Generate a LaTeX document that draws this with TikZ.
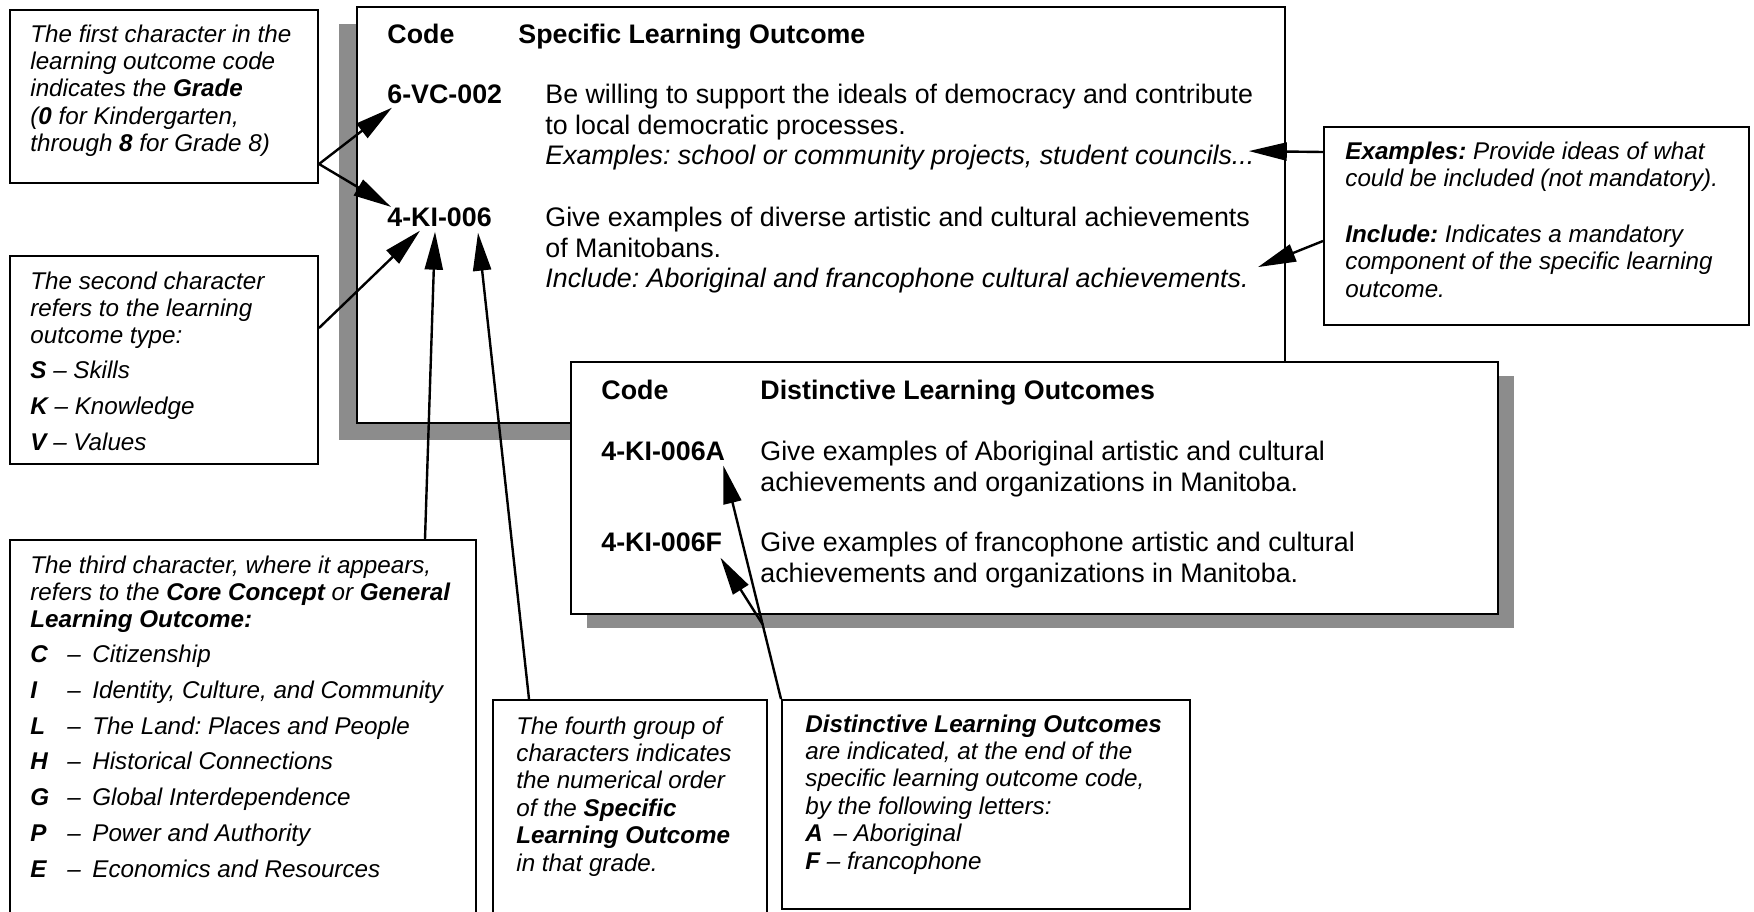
\documentclass[tikz,border=0pt]{standalone}
\usepackage{fontspec}
\setmainfont{Liberation Sans}
\usetikzlibrary{arrows.meta,shadows}
\frenchspacing
\newcommand{\mainsize}{\fontsize{13.4}{15.5}\selectfont}
\newcommand{\sidesize}{\fontsize{12.1}{13.7}\selectfont}
\newcommand{\side}[2]{\parbox[t]{#1}{\sidesize\itshape #2}}
\newcommand{\letterkey}[1]{\makebox[18.5pt][l]{\bfseries #1}\makebox[12.5pt][l]{--}}

\begin{document}
\begin{tikzpicture}[x=0.5pt, y=-0.5pt, >={Triangle[length=19pt,width=9pt]},
    box/.style={draw, line width=1pt, fill=white, inner sep=0pt, anchor=north west},
    slopanel/.style={box, drop shadow={shadow xshift=-9pt, shadow yshift=-8.5pt, opacity=1, fill=black!45, draw=none}},
    dlopanel/.style={box, drop shadow={shadow xshift=8pt, shadow yshift=-7pt, opacity=1, fill=black!45, draw=none}},
    txt/.style={inner sep=0pt, anchor=base west}]
	\path[use as bounding box, fill=white] (0,0) rectangle (1754,911);

	% specific learning outcome panel
	\node[slopanel, minimum width=464pt, minimum height=208pt] (slo) at (356,6) {};
	\node[txt, font=\mainsize\bfseries] (slocode) at (387,43) {Code};
	\node[txt, font=\mainsize\bfseries] (slohead) at (518,43) {Specific Learning Outcome};
	\node[txt, font=\mainsize\bfseries] (c6vc) at (387,103) {6-VC-002};
	\node[txt, font=\mainsize] (d6vc) at (545,103) {\parbox[t]{360pt}{Be willing to support the ideals of democracy and contribute\\ to local democratic processes.}};
	\node[txt, font=\mainsize\itshape] (ex6vc) at (545,164) {Examples: school or community projects, student councils...};
	\node[txt, font=\mainsize\bfseries] (c4ki) at (387,226) {4-KI-006};
	\node[txt, font=\mainsize] (d4ki) at (545,226) {\parbox[t]{360pt}{Give examples of diverse artistic and cultural achievements\\ of Manitobans.}};
	\node[txt, font=\mainsize\itshape] (inc4ki) at (545,287) {Include: Aboriginal and francophone cultural achievements.};

	% distinctive learning outcomes panel
	\node[dlopanel, minimum width=463.5pt, minimum height=126pt] (dlo) at (570,361) {};
	\node[txt, font=\mainsize\bfseries] (dlocode) at (601,399) {Code};
	\node[txt, font=\mainsize\bfseries] (dlohead) at (760,399) {Distinctive Learning Outcomes};
	\node[txt, font=\mainsize\bfseries] (c006a) at (601,460) {4-KI-006A};
	\node[txt, font=\mainsize] (d006a) at (760,460) {\parbox[t]{330pt}{Give examples of Aboriginal artistic and cultural\\ achievements and organizations in Manitoba.}};
	\node[txt, font=\mainsize\bfseries] (c006f) at (601,551) {4-KI-006F};
	\node[txt, font=\mainsize] (d006f) at (760,551) {\parbox[t]{330pt}{Give examples of francophone artistic and cultural\\ achievements and organizations in Manitoba.}};

	% explanation boxes
	\node[box, minimum width=154pt, minimum height=86.5pt] (grade) at (9,9) {};
	\node[txt] (gradetxt) at (30,42) {\side{145pt}{The first character in the\\ learning outcome code\\ indicates the \textbf{Grade}\\ (\textbf{0} for Kindergarten,\\ through \textbf{8} for Grade 8)}};

	\node[box, minimum width=154pt, minimum height=104pt] (type) at (9,255) {};
	\node[txt] (typetxt) at (30,289) {\side{145pt}{The second character\\ refers to the learning\\ outcome type:\\[3.6pt] \textbf{S} -- Skills\\[4.2pt] \textbf{K} -- Knowledge\\[4.2pt] \textbf{V} -- Values}};

	\node[box, minimum width=233pt, minimum height=200pt] (concept) at (9,539) {};
	\node[txt] (concepttxt) at (30,573) {\side{225pt}{The third character, where it appears,\\ refers to the \textbf{Core Concept} or \textbf{General}\\ \textbf{Learning Outcome:}\\[3.6pt]
		\letterkey{C}Citizenship\\[4.2pt]
		\letterkey{I}Identity, Culture, and Community\\[4.2pt]
		\letterkey{L}The Land: Places and People\\[4.2pt]
		\letterkey{H}Historical Connections\\[4.2pt]
		\letterkey{G}Global Interdependence\\[4.2pt]
		\letterkey{P}Power and Authority\\[4.2pt]
		\letterkey{E}Economics and Resources}};

	\node[box, minimum width=137pt, minimum height=120pt] (order) at (492,699) {};
	\node[txt] (ordertxt) at (516,734) {\side{125pt}{The fourth group of\\ characters indicates\\ the numerical order\\ of the \textbf{Specific}\\ \textbf{Learning Outcome}\\ in that grade.}};

	\node[box, minimum width=204pt, minimum height=104.5pt] (distinct) at (781,699) {};
	\node[txt] (distincttxt) at (805,732) {\side{195pt}{\textbf{Distinctive Learning Outcomes}\\ are indicated, at the end of the\\ specific learning outcome code,\\ by the following letters:\\ \textbf{A} \,-- Aboriginal\\ \textbf{F} -- francophone}};

	\node[box, minimum width=212.5pt, minimum height=99pt] (note) at (1323,126) {};
	\node[txt] (notetxt) at (1345,159) {\side{200pt}{\textbf{Examples:} Provide ideas of what\\ could be included (not mandatory).\\[14.3pt] \textbf{Include:} Indicates a mandatory\\ component of the specific learning\\ outcome.}};

	% pointers
	\path[->, line width=1.2pt]
	([shift={(0,-20)}]grade.south east) edge ([shift={(5,4)}]c6vc.south west)
	                                    edge ([shift={(4,0)}]c4ki.north west)
	([shift={(0,73)}]type.north east) edge ([shift={(33,4)}]c4ki.south west)
	([shift={(416,0)}]concept.north west) edge ([shift={(48,5)}]c4ki.south west)
	([shift={(37,0)}]order.north west) edge ([shift={(91,6)}]c4ki.south west)
	([shift={(0,-74)}]note.west) edge ([shift={(-6,-6)}]ex6vc.east)
	([shift={(0,15)}]note.west) edge ([shift={(9,-13)}]inc4ki.east);
	\draw[->, line width=1.2pt] (distinct.north west) -- coordinate[pos=0.32] (fork) ([shift={(-2,5)}]c006a.south east);
	\path[->, line width=1.2pt] (fork) edge ([shift={(-2,6)}]c006f.south east);
\end{tikzpicture}
\end{document}
